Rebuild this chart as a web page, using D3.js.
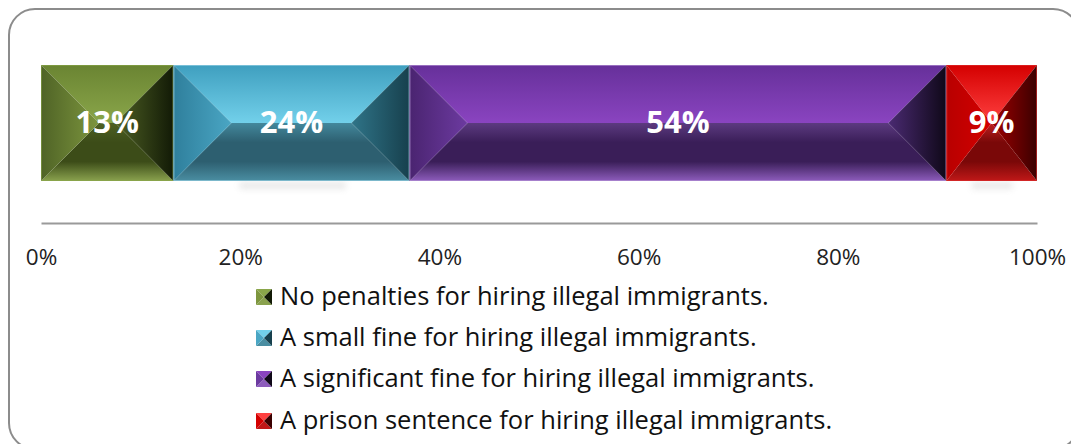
<!DOCTYPE html>
<html><head><meta charset="utf-8">
<script src="https://cdn.jsdelivr.net/npm/d3@7"></script>
<style>body{margin:0;background:#fff}svg{display:block}</style>
</head><body>
<svg id="c" width="1071" height="444"></svg>
<script>
const categories = ["No penalties for hiring illegal immigrants.",
  "A small fine for hiring illegal immigrants.",
  "A significant fine for hiring illegal immigrants.",
  "A prison sentence for hiring illegal immigrants."];
const values = [13.3, 23.7, 53.9, 9.1];
const valueLabels = ["13%", "24%", "54%", "9%"];
const tickValues = [0, 20, 40, 60, 80, 100];
const tickLabels = ["0%", "20%", "40%", "60%", "80%", "100%"];

const palettes = [
  {top:["#6a8432","#8aa64a"], bot:["#4e6124","#3c4c18","#8aa24e"], left:["#4f6326","#7d963e"], right:["#4e6024","#121a06"], edge:"#8aa64a"},
  {top:["#3f9fbf","#72d0ea"], bot:["#43889c","#2d5f70","#4a8ea2"], left:["#2f7f9c","#4aa6c4"], right:["#2f7488","#17404d"], edge:"#9fd6e8"},
  {top:["#66309a","#8a44c0"], bot:["#5c3a80","#3a1e58","#8d5cbc"], left:["#4a2470","#6c3aa0"], right:["#4a2a72","#0f0818"], edge:"#b99ad8"},
  {top:["#d40000","#ff4040"], bot:["#c02020","#7a0808","#c01818"], left:["#b80000","#d40000"], right:["#a00000","#3a0000"], edge:"#e03030"}
];

const svg = d3.select("#c");
const defs = svg.append("defs");

svg.append("rect").attr("x",9).attr("y",9).attr("width",1070).attr("height",440)
  .attr("rx",26).attr("fill","#fff").attr("stroke","#8c8c8c").attr("stroke-width",2);

const x = d3.scaleLinear().domain([0,100]).range([41,1037]);
const barY0 = 65, barY1 = 181, yc = (barY0+barY1)/2;

const blur = defs.append("filter").attr("id","sh").attr("x","-50%").attr("y","-200%").attr("width","200%").attr("height","500%");
blur.append("feGaussianBlur").attr("stdDeviation",3);

function lg(id, stops, horiz){
  const g = defs.append("linearGradient").attr("id",id)
    .attr("x1",0).attr("y1",0).attr("x2",horiz?1:0).attr("y2",horiz?0:1);
  stops.forEach((c,i)=>g.append("stop").attr("offset", stops.length===1?0:i/(stops.length-1)).attr("stop-color",c));
  return "url(#"+id+")";
}

let cum = 0;
const segs = values.map((v,i)=>{ const s={i, v, a:cum, b:cum+v}; cum+=v; return s; });

const shadowG = svg.append("g");
segs.forEach(s=>{
  if (s.i===1 || s.i===3){
    const x0=x(s.a), x1=x(s.b), w=x1-x0;
    shadowG.append("rect").attr("x",x0+w*0.28).attr("y",barY1+1).attr("width",w*0.45).attr("height",7)
      .attr("fill","#c8c8c8").attr("opacity",0.4).attr("filter","url(#sh)");
  }
});

const barG = svg.append("g");
segs.forEach(s=>{
  const p = palettes[s.i];
  const x0=x(s.a), x1=x(s.b), w=x1-x0, h=barY1-barY0;
  const d = Math.min(58, w/2);
  const g = barG.append("g");
  const top = lg("t"+s.i, p.top, false);
  const bot = lg("b"+s.i, [p.bot[0], p.bot[1], p.bot[1], p.bot[2]], false);
  const left = lg("l"+s.i, p.left, true);
  const right = lg("r"+s.i, p.right, true);
  const pts = a=>a.map(q=>q.join(",")).join(" ");
  g.append("polygon").attr("points",pts([[x0,barY0],[x1,barY0],[x1-d,yc],[x0+d,yc]])).attr("fill",top);
  g.append("polygon").attr("points",pts([[x0,barY1],[x1,barY1],[x1-d,yc],[x0+d,yc]])).attr("fill",bot);
  g.append("polygon").attr("points",pts([[x0,barY0],[x0+d,yc],[x0,barY1]])).attr("fill",left);
  g.append("polygon").attr("points",pts([[x1,barY0],[x1-d,yc],[x1,barY1]])).attr("fill",right);
  g.append("rect").attr("x",x0+0.5).attr("y",barY0+0.5).attr("width",w-1).attr("height",h-1)
    .attr("fill","none").attr("stroke",p.edge).attr("stroke-width",1).attr("opacity",0.6);
  g.append("text").attr("x",(x0+x1)/2).attr("y",yc+2).attr("text-anchor","middle")
    .attr("dominant-baseline","middle").attr("fill","#fff")
    .attr("font-family","'Open Sans', sans-serif").attr("font-weight","bold").attr("font-size",31)
    .text(valueLabels[s.i]);
});

const axis = d3.axisBottom(x).tickValues(tickValues).tickFormat((d,i)=>tickLabels[i]).tickSize(0).tickPadding(0);
const ag = svg.append("g").attr("transform","translate(0,223)").call(axis);
ag.select(".domain").attr("stroke","#9a9a9a").attr("stroke-width",2);
ag.selectAll("text").attr("font-family","'Open Sans', sans-serif").attr("font-size",22.5)
  .attr("fill","#222").attr("dy",0).attr("y",42);

const lgG = svg.append("g");
const rowY = [297, 338, 379, 421];
categories.forEach((c,i)=>{
  const p = palettes[i];
  const mx=256, my=rowY[i]-8, ms=16, md=ms/2;
  const mg = lgG.append("g");
  const pts = a=>a.map(q=>q.join(",")).join(" ");
  mg.append("polygon").attr("points",pts([[mx,my],[mx+ms,my],[mx+md,my+md]])).attr("fill",p.top[1]);
  mg.append("polygon").attr("points",pts([[mx,my+ms],[mx+ms,my+ms],[mx+md,my+md]])).attr("fill",p.bot[2]);
  mg.append("polygon").attr("points",pts([[mx,my],[mx+md,my+md],[mx,my+ms]])).attr("fill",p.left[1]);
  mg.append("polygon").attr("points",pts([[mx+ms,my],[mx+md,my+md],[mx+ms,my+ms]])).attr("fill",p.right[1]);
  lgG.append("text").attr("x",280).attr("y",rowY[i]+1).attr("dominant-baseline","middle")
    .attr("font-family","'Open Sans', sans-serif").attr("font-size",25.5).attr("fill","#111").text(c);
});
</script>
</body></html>
